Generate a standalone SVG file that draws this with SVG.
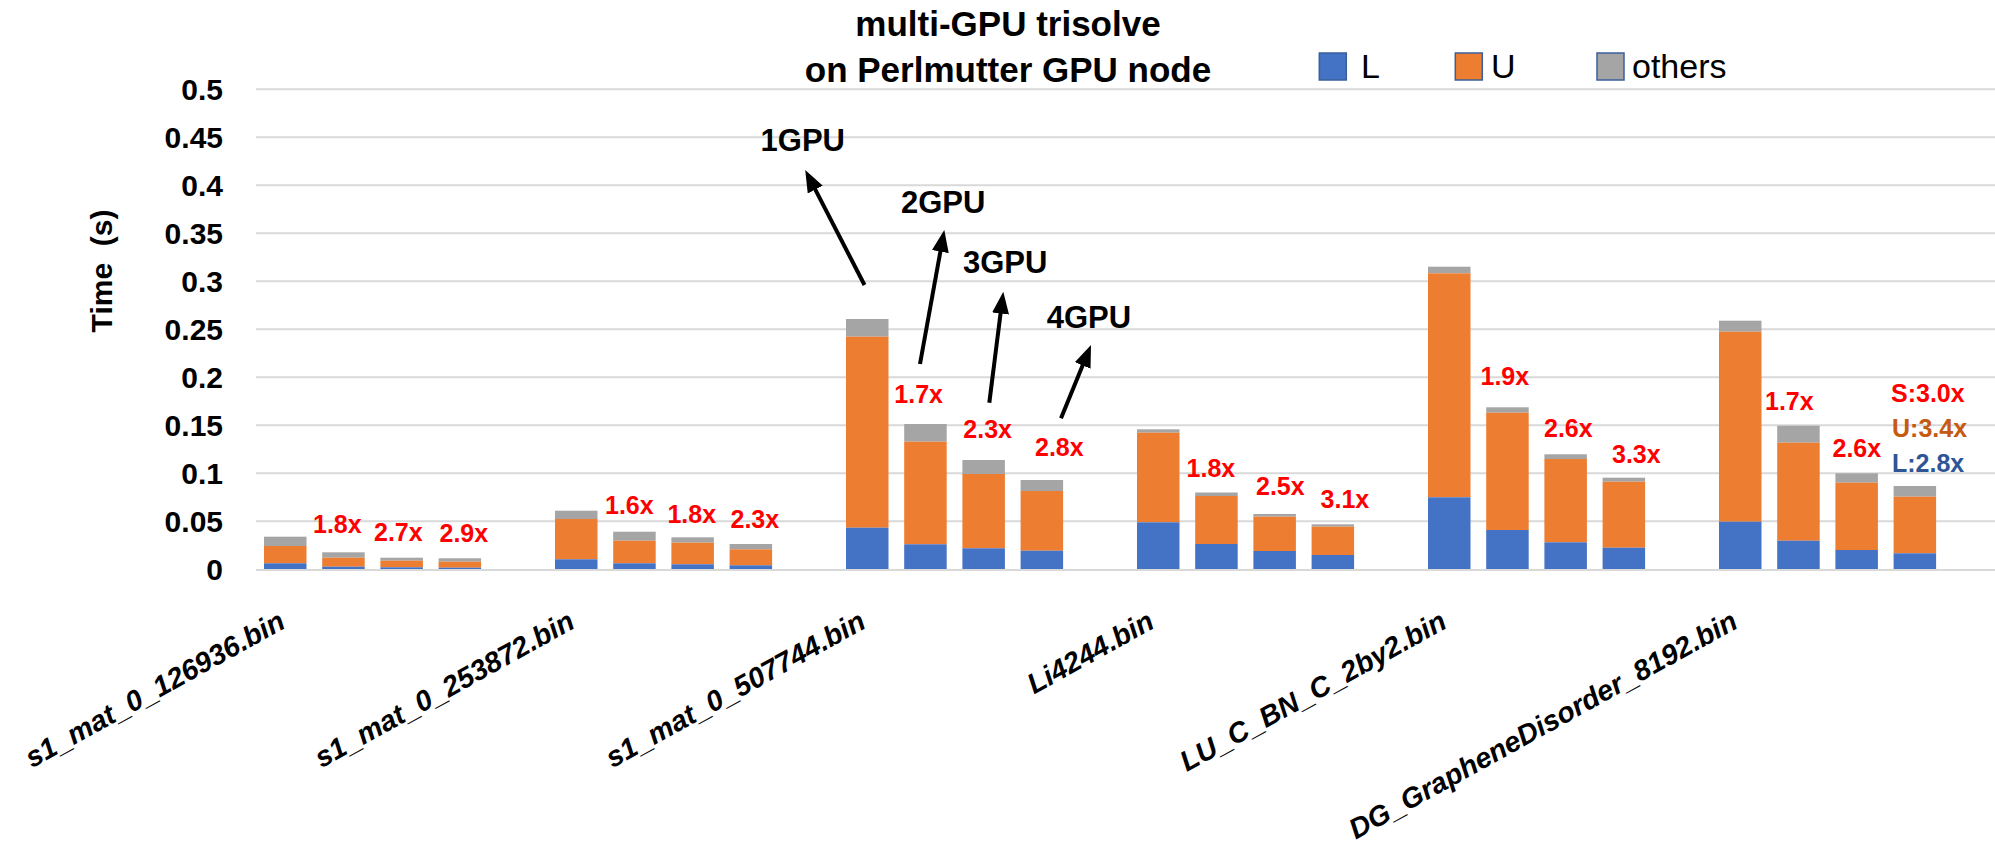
<svg xmlns="http://www.w3.org/2000/svg" width="1995" height="847" viewBox="0 0 1995 847">
<style>
  text { font-family: "Liberation Sans", Arial, sans-serif; }
  .title { font-size: 35px; font-weight: bold; fill: #000; }
  .tick { font-size: 30px; font-weight: bold; fill: #000; text-anchor: end; }
  .axt { font-size: 30px; font-weight: bold; fill: #000; }
  .leg { font-size: 34px; fill: #000; }
  .gpu { font-size: 31px; font-weight: bold; fill: #000; }
  .sp { font-size: 25px; font-weight: bold; fill: #FF0000; }
  .xl { font-size: 28.5px; font-weight: bold; font-style: italic; fill: #000; text-anchor: end; }
  .grid { stroke: #D9D9D9; stroke-width: 2; }
  .L { fill: #4472C4; }
  .U { fill: #ED7D31; }
  .O { fill: #A5A5A5; }
  .lb { stroke: #3A5F9A; stroke-width: 1.5; }
  .arrow { stroke: #000; stroke-width: 4; fill: none; }
</style>
<defs>
  <marker id="head" markerUnits="userSpaceOnUse" markerWidth="22" markerHeight="17" refX="12" refY="8.5" orient="auto">
    <path d="M0,0 L22,8.5 L0,17 Z" fill="#000"/>
  </marker>
</defs>
<rect x="0" y="0" width="1995" height="847" fill="#fff"/>

<g id="title">
  <text class="title" x="1008" y="36" text-anchor="middle">multi-GPU trisolve</text>
  <text class="title" x="1008" y="82" text-anchor="middle">on Perlmutter GPU node</text>
</g>

<g id="legend">
  <rect class="L lb" x="1319.3" y="53" width="27" height="27"/>
  <text class="leg" x="1361" y="78">L</text>
  <rect class="U lb" x="1455.3" y="53" width="27" height="27"/>
  <text class="leg" x="1491" y="78">U</text>
  <rect class="O lb" x="1597" y="53" width="27" height="27"/>
  <text class="leg" x="1632" y="78">others</text>
</g>

<g id="gridlines">
  <line class="grid" x1="256" y1="89.3" x2="1995" y2="89.3"/>
  <line class="grid" x1="256" y1="137.3" x2="1995" y2="137.3"/>
  <line class="grid" x1="256" y1="185.3" x2="1995" y2="185.3"/>
  <line class="grid" x1="256" y1="233.3" x2="1995" y2="233.3"/>
  <line class="grid" x1="256" y1="281.3" x2="1995" y2="281.3"/>
  <line class="grid" x1="256" y1="329.3" x2="1995" y2="329.3"/>
  <line class="grid" x1="256" y1="377.3" x2="1995" y2="377.3"/>
  <line class="grid" x1="256" y1="425.3" x2="1995" y2="425.3"/>
  <line class="grid" x1="256" y1="473.3" x2="1995" y2="473.3"/>
  <line class="grid" x1="256" y1="521.3" x2="1995" y2="521.3"/>
</g>

<g id="y-axis">
  <text class="tick" x="223" y="100">0.5</text>
  <text class="tick" x="223" y="148">0.45</text>
  <text class="tick" x="223" y="196">0.4</text>
  <text class="tick" x="223" y="244">0.35</text>
  <text class="tick" x="223" y="292">0.3</text>
  <text class="tick" x="223" y="340">0.25</text>
  <text class="tick" x="223" y="388">0.2</text>
  <text class="tick" x="223" y="436">0.15</text>
  <text class="tick" x="223" y="484">0.1</text>
  <text class="tick" x="223" y="532">0.05</text>
  <text class="tick" x="223" y="580">0</text>
  <text class="axt" transform="translate(112,271) rotate(-90)" text-anchor="middle">Time&#160; (s)</text>
</g>

<g id="bars">
  <!-- s1_mat_0_126936 -->
  <rect class="O" x="264" y="536.7" width="42.5" height="9.3"/>
  <rect class="U" x="264" y="546" width="42.5" height="17.3"/>
  <rect class="L" x="264" y="563.3" width="42.5" height="6"/>
  <rect class="O" x="322.2" y="552.3" width="42.5" height="5.4"/>
  <rect class="U" x="322.2" y="557.7" width="42.5" height="9"/>
  <rect class="L" x="322.2" y="566.7" width="42.5" height="2.6"/>
  <rect class="O" x="380.4" y="557.7" width="42.5" height="3"/>
  <rect class="U" x="380.4" y="560.7" width="42.5" height="6.6"/>
  <rect class="L" x="380.4" y="567.3" width="42.5" height="2"/>
  <rect class="O" x="438.6" y="558.3" width="42.5" height="3.4"/>
  <rect class="U" x="438.6" y="561.7" width="42.5" height="6"/>
  <rect class="L" x="438.6" y="567.7" width="42.5" height="1.6"/>
  <!-- s1_mat_0_253872 -->
  <rect class="O" x="555" y="510.7" width="42.5" height="8.3"/>
  <rect class="U" x="555" y="519" width="42.5" height="40.3"/>
  <rect class="L" x="555" y="559.3" width="42.5" height="10"/>
  <rect class="O" x="613.2" y="531.7" width="42.5" height="9"/>
  <rect class="U" x="613.2" y="540.7" width="42.5" height="22.6"/>
  <rect class="L" x="613.2" y="563.3" width="42.5" height="6"/>
  <rect class="O" x="671.4" y="537.3" width="42.5" height="5.4"/>
  <rect class="U" x="671.4" y="542.7" width="42.5" height="21.6"/>
  <rect class="L" x="671.4" y="564.3" width="42.5" height="5"/>
  <rect class="O" x="729.6" y="544" width="42.5" height="5.3"/>
  <rect class="U" x="729.6" y="549.3" width="42.5" height="16"/>
  <rect class="L" x="729.6" y="565.3" width="42.5" height="4"/>
  <!-- s1_mat_0_507744 -->
  <rect class="O" x="846" y="319" width="42.5" height="17.7"/>
  <rect class="U" x="846" y="336.7" width="42.5" height="191"/>
  <rect class="L" x="846" y="527.7" width="42.5" height="41.6"/>
  <rect class="O" x="904.2" y="424" width="42.5" height="17.7"/>
  <rect class="U" x="904.2" y="441.7" width="42.5" height="102.6"/>
  <rect class="L" x="904.2" y="544.3" width="42.5" height="25"/>
  <rect class="O" x="962.4" y="460" width="42.5" height="14"/>
  <rect class="U" x="962.4" y="474" width="42.5" height="74.3"/>
  <rect class="L" x="962.4" y="548.3" width="42.5" height="21"/>
  <rect class="O" x="1020.6" y="480" width="42.5" height="11"/>
  <rect class="U" x="1020.6" y="491" width="42.5" height="59.7"/>
  <rect class="L" x="1020.6" y="550.7" width="42.5" height="18.6"/>
  <!-- Li4244 -->
  <rect class="O" x="1137" y="429.3" width="42.5" height="3.4"/>
  <rect class="U" x="1137" y="432.7" width="42.5" height="89.6"/>
  <rect class="L" x="1137" y="522.3" width="42.5" height="47"/>
  <rect class="O" x="1195.2" y="492.5" width="42.5" height="3.5"/>
  <rect class="U" x="1195.2" y="496" width="42.5" height="48"/>
  <rect class="L" x="1195.2" y="544" width="42.5" height="25.3"/>
  <rect class="O" x="1253.4" y="514" width="42.5" height="2.7"/>
  <rect class="U" x="1253.4" y="516.7" width="42.5" height="34.3"/>
  <rect class="L" x="1253.4" y="551" width="42.5" height="18.3"/>
  <rect class="O" x="1311.6" y="524.3" width="42.5" height="2.4"/>
  <rect class="U" x="1311.6" y="526.7" width="42.5" height="28.3"/>
  <rect class="L" x="1311.6" y="555" width="42.5" height="14.3"/>
  <!-- LU_C_BN_C_2by2 -->
  <rect class="O" x="1428" y="266.7" width="42.5" height="6.6"/>
  <rect class="U" x="1428" y="273.3" width="42.5" height="224"/>
  <rect class="L" x="1428" y="497.3" width="42.5" height="72"/>
  <rect class="O" x="1486.2" y="407.3" width="42.5" height="5.4"/>
  <rect class="U" x="1486.2" y="412.7" width="42.5" height="117.3"/>
  <rect class="L" x="1486.2" y="530" width="42.5" height="39.3"/>
  <rect class="O" x="1544.4" y="454.3" width="42.5" height="4.7"/>
  <rect class="U" x="1544.4" y="459" width="42.5" height="83.3"/>
  <rect class="L" x="1544.4" y="542.3" width="42.5" height="27"/>
  <rect class="O" x="1602.6" y="477.7" width="42.5" height="4"/>
  <rect class="U" x="1602.6" y="481.7" width="42.5" height="66"/>
  <rect class="L" x="1602.6" y="547.7" width="42.5" height="21.6"/>
  <!-- DG_GrapheneDisorder_8192 -->
  <rect class="O" x="1719" y="320.7" width="42.5" height="11"/>
  <rect class="U" x="1719" y="331.7" width="42.5" height="190"/>
  <rect class="L" x="1719" y="521.7" width="42.5" height="47.6"/>
  <rect class="O" x="1777.2" y="425.7" width="42.5" height="17"/>
  <rect class="U" x="1777.2" y="442.7" width="42.5" height="98"/>
  <rect class="L" x="1777.2" y="540.7" width="42.5" height="28.6"/>
  <rect class="O" x="1835.4" y="473.3" width="42.5" height="9.4"/>
  <rect class="U" x="1835.4" y="482.7" width="42.5" height="67.3"/>
  <rect class="L" x="1835.4" y="550" width="42.5" height="19.3"/>
  <rect class="O" x="1893.6" y="486" width="42.5" height="10.7"/>
  <rect class="U" x="1893.6" y="496.7" width="42.5" height="56.6"/>
  <rect class="L" x="1893.6" y="553.3" width="42.5" height="16"/>
</g>
<line class="grid" x1="256" y1="570" x2="1995" y2="570"/>

<g id="speedup-labels">
  <text class="sp" x="313" y="533">1.8x</text>
  <text class="sp" x="374" y="540.5">2.7x</text>
  <text class="sp" x="439.5" y="541.5">2.9x</text>
  <text class="sp" x="605" y="513.5">1.6x</text>
  <text class="sp" x="667.4" y="522.7">1.8x</text>
  <text class="sp" x="730.5" y="527.5">2.3x</text>
  <text class="sp" x="894.3" y="402.7">1.7x</text>
  <text class="sp" x="963.3" y="438.3">2.3x</text>
  <text class="sp" x="1035" y="455.7">2.8x</text>
  <text class="sp" x="1186.6" y="476.7">1.8x</text>
  <text class="sp" x="1256" y="495">2.5x</text>
  <text class="sp" x="1320.6" y="508.3">3.1x</text>
  <text class="sp" x="1480.5" y="384.5">1.9x</text>
  <text class="sp" x="1544" y="436.7">2.6x</text>
  <text class="sp" x="1612" y="463">3.3x</text>
  <text class="sp" x="1765" y="410">1.7x</text>
  <text class="sp" x="1832.5" y="456.7">2.6x</text>
  <text class="sp" x="1891" y="401.7">S:3.0x</text>
  <text class="sp" x="1892" y="436.7" style="fill:#C55A11">U:3.4x</text>
  <text class="sp" x="1892" y="471.7" style="fill:#2F5597">L:2.8x</text>
</g>

<g id="gpu-labels">
  <text class="gpu" x="760.6" y="150.5">1GPU</text>
  <text class="gpu" x="901" y="212.5">2GPU</text>
  <text class="gpu" x="963" y="272.5">3GPU</text>
  <text class="gpu" x="1046.7" y="327.5">4GPU</text>
</g>

<g id="connectors">
  <line class="arrow" x1="864.5" y1="285" x2="809.8" y2="178.9" marker-end="url(#head)"/>
  <line class="arrow" x1="920" y1="364" x2="942.5" y2="239.8" marker-end="url(#head)"/>
  <line class="arrow" x1="989.3" y1="402.7" x2="1002.05" y2="301.6" marker-end="url(#head)"/>
  <line class="arrow" x1="1061" y1="418.3" x2="1087.2" y2="354.3" marker-end="url(#head)"/>
</g>

<g id="x-labels">
  <text class="xl" transform="translate(287,627) rotate(-29)">s1_mat_0_126936.bin</text>
  <text class="xl" transform="translate(576.5,627) rotate(-29)">s1_mat_0_253872.bin</text>
  <text class="xl" transform="translate(867.5,627) rotate(-29)">s1_mat_0_507744.bin</text>
  <text class="xl" transform="translate(1156,627) rotate(-29)">Li4244.bin</text>
  <text class="xl" transform="translate(1448.5,627) rotate(-29)">LU_C_BN_C_2by2.bin</text>
  <text class="xl" transform="translate(1739.5,627) rotate(-29)">DG_GrapheneDisorder_8192.bin</text>
</g>
</svg>
